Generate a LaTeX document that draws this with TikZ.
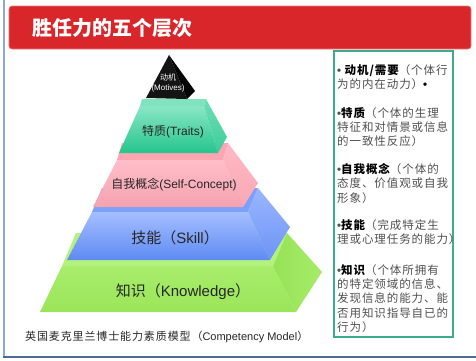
\documentclass[tikz,border=0pt]{standalone}
\usepackage{fontspec}
\setmainfont{Liberation Sans}
\newfontfamily\cjk{Noto Sans CJK SC}
\newfontfamily\cjks{Noto Sans CJK SC}[LetterSpace=8]
\newfontfamily\lat{Liberation Sans}
\newcommand\bul{{\lat\bfseries •}}
\definecolor{titlered}{HTML}{D9262A}
\definecolor{boxgreen}{HTML}{3AAE8C}
\definecolor{framel}{HTML}{8FA8CF}
\definecolor{frameb}{HTML}{4E6A96}
\definecolor{bodygray}{HTML}{505050}
% green level
\definecolor{gtop}{HTML}{B4F27E}
\definecolor{gfa}{HTML}{A8ED6B}
\definecolor{gfb}{HTML}{9BE55A}
\definecolor{gra}{HTML}{96E256}
\definecolor{grb}{HTML}{A6EC68}
% blue level
\definecolor{btop}{HTML}{7DA0FA}
\definecolor{bfa}{HTML}{A5BEFF}
\definecolor{bfb}{HTML}{5E8BF3}
\definecolor{bra}{HTML}{9BB6FF}
\definecolor{brb}{HTML}{6C94F5}
% pink level
\definecolor{ptop}{HTML}{FFA5B2}
\definecolor{pfa}{HTML}{FFBEC9}
\definecolor{pfb}{HTML}{F5A2AF}
\definecolor{pra}{HTML}{FFB9C4}
\definecolor{prb}{HTML}{F8A8B4}
% teal level
\definecolor{ttop}{HTML}{7FE3C0}
\definecolor{tfa}{HTML}{8AE6C6}
\definecolor{tfb}{HTML}{24C58D}
\definecolor{tra}{HTML}{6EDEB6}
\definecolor{trb}{HTML}{3CCD9B}
% black
\definecolor{kfront}{HTML}{141414}
\definecolor{kright}{HTML}{050505}
\begin{document}
\begin{tikzpicture}[x=1bp,y=-1bp,
  lbl/.style={inner sep=0pt,text=black!85},
  para/.style={anchor=north west,inner sep=0pt,align=left,text=bodygray,
    font=\cjks\fontsize{11.5bp}{14.4bp}\selectfont},
]
\useasboundingbox (0,0) rectangle (476,360);
\fill[white] (0,0) rectangle (476,360);
% frame
\draw[framel,line width=1.5bp] (4,0) -- (4,357);
\draw[frameb,line width=2bp] (3,356.5) -- (476,356.5);
% title bar
\node[fill=titlered,draw=titlered!60!white,line width=0.6bp,rounded corners=3bp,
  minimum width=462bp,minimum height=43bp,inner sep=0pt] (bar) at (240,27.5) {};
\node[anchor=west,text=white,font=\cjk\bfseries\fontsize{20bp}{24bp}\selectfont,
  inner sep=0pt] (title) at (32,27.5) {胜任力的五个层次};
% ---- green level (Knowledge)
\fill[gtop] (62,266) -- (273,266) -- (287,233) -- (76,233) -- cycle;
\shade[top color=gfa,bottom color=gfb]
  (62,266) -- (273,266) -- (296,312) -- (40,312) -- cycle;
\shade[left color=gra,right color=grb]
  (273,266) -- (287,233) -- (322,272) -- (296,312) -- cycle;
% ---- blue level (Skill)
\fill[btop] (92,212) -- (248,212) -- (258,188) -- (102,188) -- cycle;
\shade[top color=bfa,bottom color=bfb]
  (92,212) -- (248,212) -- (270,260) -- (67,260) -- cycle;
\shade[top color=bra,bottom color=brb]
  (248,212) -- (258,188) -- (290,227) -- (270,260) -- cycle;
% ---- pink level (Self-Concept)
\fill[ptop] (117,160) -- (223,160) -- (228,143) -- (122,143) -- cycle;
\shade[top color=pfa,bottom color=pfb]
  (117,160) -- (223,160) -- (243,207) -- (93,207) -- cycle;
\shade[top color=pra,bottom color=prb]
  (223,160) -- (228,143) -- (258,183) -- (243,207) -- cycle;
% ---- teal level (Traits)
\fill[ttop] (140,106) -- (204,106) -- (206,99) -- (142,99) -- cycle;
\shade[top color=tfa,bottom color=tfb]
  (140,106) -- (204,106) -- (218,153) -- (119,153) -- cycle;
\shade[top color=tra,bottom color=trb]
  (204,106) -- (206,99) -- (227,137) -- (218,153) -- cycle;
% ---- black top (Motives)
\fill[kfront] (169,55) -- (146,98) -- (187,99) -- cycle;
\fill[kright] (169,55) -- (187,99) -- (195,91) -- cycle;
% labels
\node[lbl,font=\fontsize{15bp}{18bp}\selectfont] (know) at (183,292) {{\cjk 知识（}Knowledge{\cjk ）}};
\node[lbl,font=\fontsize{15bp}{18bp}\selectfont] (skill) at (175,238) {{\cjk 技能（}Skill{\cjk ）}};
\node[lbl,font=\fontsize{12bp}{14bp}\selectfont] (self) at (174,185) {{\cjk 自我概念}(Self-Concept)};
\node[lbl,font=\fontsize{12bp}{14bp}\selectfont] (trait) at (173,132) {{\cjk 特质}(Traits)};
\node[lbl,text=white,align=center,font=\fontsize{8bp}{10bp}\selectfont] (motive) at (168,83) {{\cjk 动机}\\(Motives)};
% right text box
\draw[boxgreen,line width=1.2bp] (334,51) rectangle (453,337);
\node[para] (p1) at (337,64) {\bul\ {\color{black}\bfseries 动机/需要}（个体行\\为的内在动力）{\color{black}\bul}};
\node[para] (p2) at (337,107) {\bul{\color{black}\bfseries 特质}（个体的生理\\特征和对情景或信息\\的一致性反应）};
\node[para] (p3) at (337,163) {\bul{\color{black}\bfseries 自我概念}（个体的\\态度、价值观或自我\\形象）};
\node[para] (p4) at (337,219) {\bul{\color{black}\bfseries 技能}（完成特定生\\理或心理任务的能力）};
\node[para] (p5) at (337,264) {\bul{\color{black}\bfseries 知识}（个体所拥有\\的特定领域的信息、\\发现信息的能力、能\\否用知识指导自已的\\行为）};
% caption
\node[anchor=west,inner sep=0pt,text=black!85,font=\fontsize{11bp}{13bp}\selectfont] (cap) at (25,337)
  {{\cjks 英国麦克里兰博士能力素质模型（}Competency Model{\cjk ）}};
\end{tikzpicture}
\end{document}
